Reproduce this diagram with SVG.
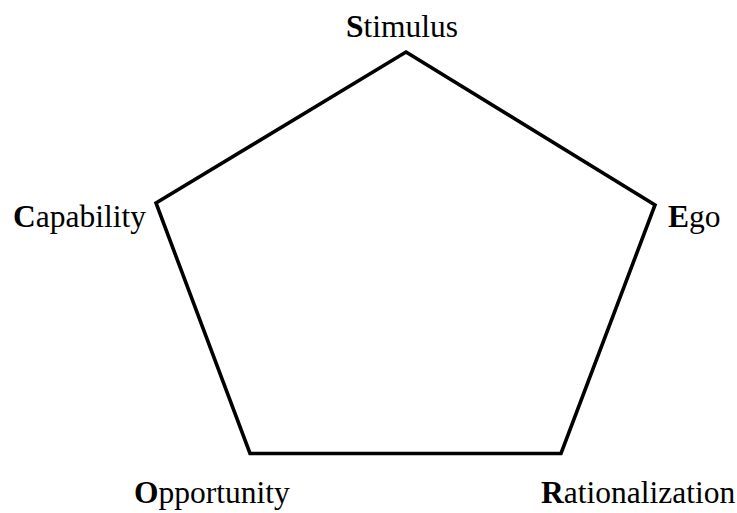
<svg xmlns="http://www.w3.org/2000/svg" width="737" height="513" viewBox="0 0 737 513">
<style>
.lbl{font-family:"Liberation Serif","Times New Roman",serif;font-size:31.5px;fill:#000}
.b{font-weight:bold}
.edge{fill:none;stroke:#000;stroke-width:3.6;stroke-linejoin:miter}
</style>
<rect width="737" height="513" fill="#fff"/>
<g id="connectors">
<polygon class="edge" points="406,52 655,205 561,453.5 250,453.5 156,203"/>
</g>
<g id="stimulus"><text class="lbl" x="346" y="37"><tspan class="b">S</tspan>timulus</text></g>
<g id="ego"><text class="lbl" x="668" y="227"><tspan class="b">E</tspan>go</text></g>
<g id="rationalization"><text class="lbl" x="541" y="503"><tspan class="b">R</tspan>ationalization</text></g>
<g id="opportunity"><text class="lbl" x="134" y="503"><tspan class="b">O</tspan>pportunity</text></g>
<g id="capability"><text class="lbl" x="13" y="227"><tspan class="b">C</tspan>apability</text></g>
</svg>
